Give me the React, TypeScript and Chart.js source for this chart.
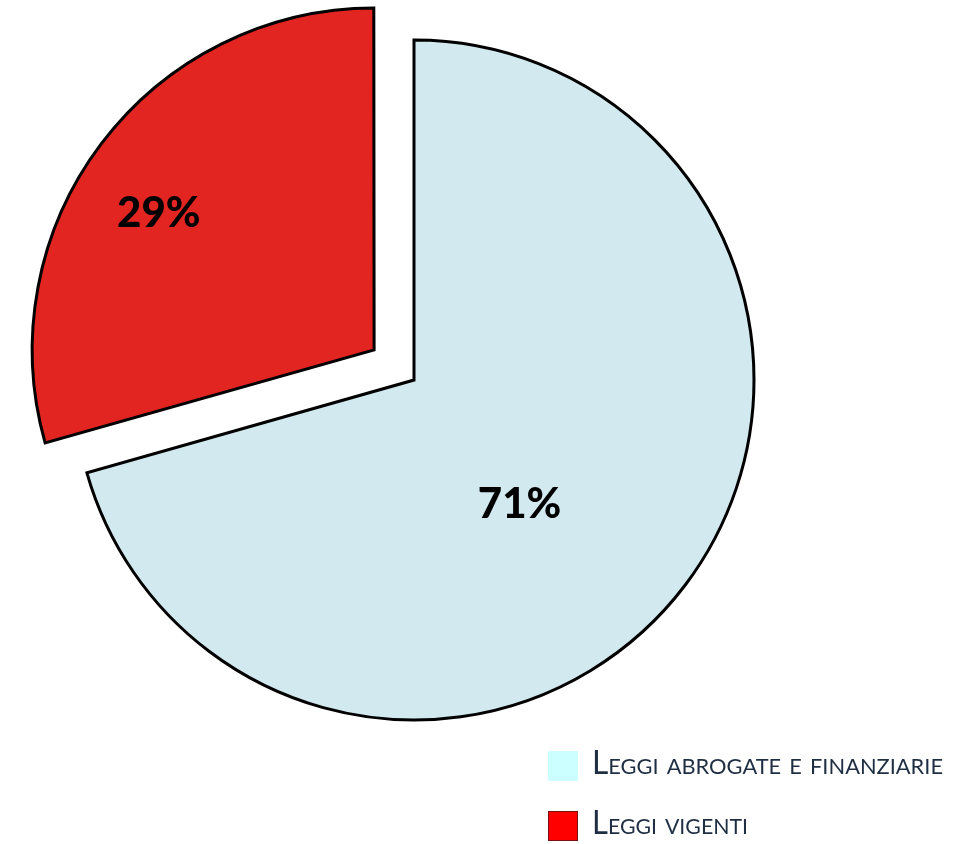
import React, { useEffect, useRef } from "react";
import { Chart, registerables } from "chart.js";

Chart.register(...registerables);

const categories: string[] = ["Leggi abrogate e finanziarie", "Leggi vigenti"];
const shares: number[] = [70.6, 29.4];
const sliceColors: string[] = ["#d2e9f0", "#e32521"];
const legendColors: string[] = ["#ccffff", "#ff0000"];
const legendBorders: string[] = ["#ccffff", "#7a1010"];
// Chart.js draws arcs shifted by offset / 4
const sliceOffsets: number[] = [0, 200];
const labelRadiusFrac: number[] = [0.48, 0.75];
const labelAngleShiftDeg: number[] = [12.6, -4.7];

const labelPlugin = {
  id: "sliceLabels",
  afterDatasetsDraw(chart: any) {
    const ctx = chart.ctx as CanvasRenderingContext2D;
    const meta = chart.getDatasetMeta(0);
    const ds = chart.data.datasets[0];
    const total = (ds.data as number[]).reduce((a, b) => a + b, 0);
    ctx.save();
    ctx.fillStyle = "#000";
    ctx.font = "900 42px Lato";
    ctx.textAlign = "center";
    ctx.textBaseline = "middle";
    meta.data.forEach((arc: any, i: number) => {
      const p = arc.getProps(["x", "y", "startAngle", "endAngle", "outerRadius"], true);
      const mid = (p.startAngle + p.endAngle) / 2;
      const off = sliceOffsets[i] / 4;
      const cx = p.x + off * Math.cos(mid);
      const cy = p.y + off * Math.sin(mid);
      const a = mid + (labelAngleShiftDeg[i] * Math.PI) / 180;
      const r = p.outerRadius * labelRadiusFrac[i];
      const pct = Math.round(((ds.data[i] as number) / total) * 100) + "%";
      ctx.fillText(pct, cx + r * Math.cos(a), cy + r * Math.sin(a));
    });
    ctx.restore();
  },
};

const legendPlugin = {
  id: "customLegend",
  afterDraw(chart: any) {
    const ctx = chart.ctx as CanvasRenderingContext2D;
    const x0 = 548;
    const rows = [766, 826];
    const textWidths = [351, 156];
    ctx.save();
    categories.forEach((label, i) => {
      const cy = rows[i];
      ctx.fillStyle = legendColors[i];
      ctx.fillRect(x0, cy - 15, 30, 30);
      if (legendBorders[i] !== legendColors[i]) {
        ctx.strokeStyle = legendBorders[i];
        ctx.lineWidth = 1;
        ctx.strokeRect(x0 + 0.5, cy - 14.5, 29, 29);
      }
      ctx.font = "small-caps 400 32px Lato";
      try {
        (ctx as any).fontVariantCaps = "small-caps";
      } catch (e) {}
      ctx.fillStyle = "#1f2e42";
      ctx.textAlign = "left";
      ctx.textBaseline = "alphabetic";
      const w = ctx.measureText(label).width;
      const sx = textWidths[i] / w;
      ctx.save();
      ctx.translate(592, cy + 8);
      ctx.scale(sx, 1);
      ctx.fillText(label, 0, 0);
      ctx.restore();
    });
    ctx.restore();
  },
};

export default function App() {
  const canvasRef = useRef<HTMLCanvasElement | null>(null);

  useEffect(() => {
    if (!canvasRef.current) return;
    const chart = new Chart(canvasRef.current, {
      type: "pie",
      data: {
        labels: categories,
        datasets: [
          {
            data: shares,
            backgroundColor: sliceColors,
            borderColor: "#000000",
            borderWidth: 3,
            borderJoinStyle: "miter",
            offset: sliceOffsets,
          } as any,
        ],
      },
      options: {
        animation: false,
        responsive: true,
        maintainAspectRatio: false,
        radius: 340,
        layout: { padding: { left: 0, top: 0, right: 151, bottom: 84 } },
        plugins: {
          legend: { display: false },
          tooltip: { enabled: false },
        },
      } as any,
      plugins: [labelPlugin, legendPlugin],
    });
    return () => chart.destroy();
  }, []);

  return (
    <div style={{ position: "fixed", left: 0, top: 0, width: 979, height: 844, background: "#fff" }}>
      <canvas ref={canvasRef} />
    </div>
  );
}
